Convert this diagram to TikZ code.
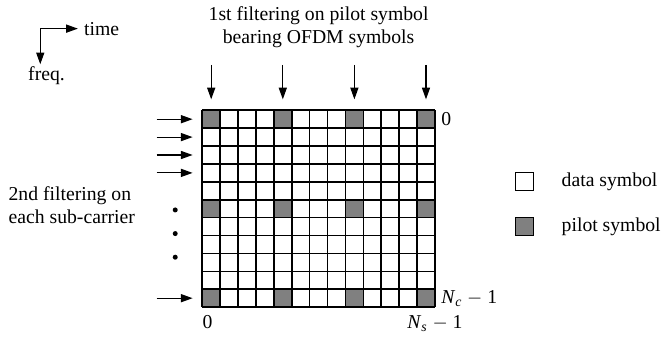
\documentclass[tikz,border=0pt]{standalone}
\usepackage{fontspec}
\setmainfont{Liberation Serif}
\usetikzlibrary{arrows.meta,positioning}
\tikzset{
  pilot/.style={fill=black!50},
  arr/.style={-{Triangle[length=6.5pt,width=4.5pt]},line width=0.6pt},
  arrboth/.style={{Triangle[length=6.5pt,width=4.5pt]}-{Triangle[length=6.5pt,width=4.5pt]},line width=0.6pt},
  keybox/.style={draw,line width=0.6pt,minimum size=10pt,inner sep=0pt},
  lbl/.style={font=\fontsize{11}{12.7}\selectfont},
}
\begin{document}
\begin{tikzpicture}[x=10pt,y=10pt,lbl]
  \useasboundingbox (-11.3,6.16) rectangle (25.63,-12.72);
  % time / frequency directions
  \coordinate (corner) at (-9.05,4.56);
  \coordinate (freqtip) at (-9.05,2.57);
  \node[anchor=west] (time) at (-6.95,4.56) {time};
  \node[anchor=north] (freq) at (-8.7,2.77) {freq.};
  \draw[arrboth] (time.west) -| (freqtip);
  % pilot cells and grid
  \foreach \r in {0,5,10}
    \foreach \c in {0,4,8,12}
      \fill[pilot] (\c,-\r) rectangle ++(1,-1);
  \draw[line width=0.9pt] (0,0) grid[step=1] (13,-11);
  % first filtering
  \node[align=center] (first) at (6.5,4.66) {1st filtering on pilot symbol\\bearing OFDM symbols};
  \foreach \c in {0,4,8,12}
    \draw[arr] (\c+0.5,2.53) -- (\c+0.5,0.61);
  % second filtering
  \node[align=left,anchor=west] (second) at (-11.17,-5.29) {2nd filtering on\\each sub-carrier};
  \foreach \r in {0,1,2,3,10}
    \draw[arr] (-2.55,-\r-0.5) -- (-0.54,-\r-0.5);
  \foreach \y in {-5.57,-6.89,-8.21}
    \fill (-1.51,\y) circle (1.4pt);
  % indices
  \node[anchor=west] (rowfirst) at (13,-0.5) {0};
  \node[anchor=west] (rowlast) at (13,-10.5) {\textit{N}\textsubscript{\textit{c}} $-$ 1};
  \node[anchor=north west,inner sep=0pt] (colfirst) at (0,-11.45) {0};
  \node[anchor=north,inner sep=0pt] (collast) at (13,-11.45) {\textit{N}\textsubscript{\textit{s}} $-$ 1};
  % legend
  \node[keybox] (datakey) at (18,-4) {};
  \node[keybox,pilot] (pilotkey) at (18,-6.5) {};
  \node[right=12pt of datakey] (datatxt) {data symbol};
  \node[right=12pt of pilotkey] (pilottxt) {pilot symbol};
\end{tikzpicture}
\end{document}
